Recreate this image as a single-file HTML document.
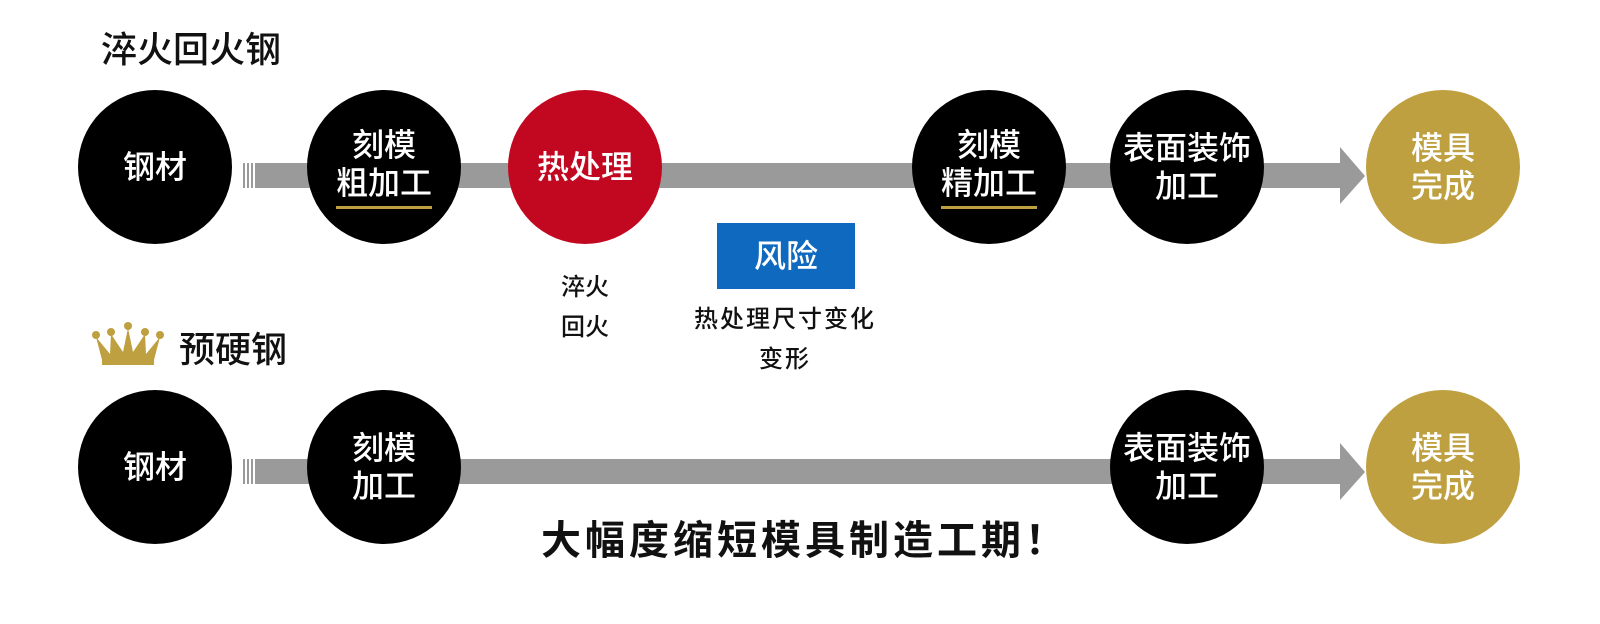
<!DOCTYPE html>
<html><head><meta charset="utf-8"><style>
body{margin:0;width:1600px;height:624px;background:#fff;position:relative;overflow:hidden;font-family:"Liberation Sans","Noto Sans CJK SC",sans-serif}
.a{position:absolute}
.c{position:absolute;width:154px;height:154px;border-radius:50%;background:#000;color:#fff;display:flex;flex-direction:column;align-items:center;justify-content:center;font-size:32px;line-height:38px;text-align:center;font-weight:500}
.bar{position:absolute;height:25px;background:#9a9a9a}
.t{position:absolute;color:#111;white-space:nowrap;font-weight:500}
.ul{border-bottom:3px solid #bfa040;padding-bottom:4px}
</style></head><body>
<div class="t" style="left:101px;top:28px;font-size:36px;line-height:44px">淬火回火钢</div>
<div class="t" style="left:179px;top:328px;font-size:36px;line-height:44px">预硬钢</div>
<svg class="a" style="left:92px;top:322px" width="72" height="44" viewBox="0 0 72 44"><g fill="#bfa040"><circle cx="36" cy="4" r="4"/><circle cx="19" cy="10" r="4"/><circle cx="53" cy="10" r="4"/><circle cx="4" cy="13" r="4"/><circle cx="68" cy="13" r="4"/><path d="M4 15 L18 32 L19 12 L31 30 L36 6 L41 30 L53 12 L54 32 L68 15 L62 38 L10 38 Z"/><rect x="10" y="38" width="52" height="5"/></g></svg>

<svg class="a" style="left:240px;top:163px" width="22" height="25"><g fill="#9a9a9a"><rect x="3" width="2" height="25"/><rect x="7" width="2" height="25"/><rect x="11" width="2" height="25"/><rect x="15" width="7" height="25"/></g></svg>
<div class="bar" style="left:262px;top:163px;width:1084px"></div>
<svg class="a" style="left:1340px;top:147px" width="26" height="58"><polygon points="0,0 25,29 0,57" fill="#9a9a9a"/></svg>
<svg class="a" style="left:240px;top:459px" width="22" height="25"><g fill="#9a9a9a"><rect x="3" width="2" height="25"/><rect x="7" width="2" height="25"/><rect x="11" width="2" height="25"/><rect x="15" width="7" height="25"/></g></svg>
<div class="bar" style="left:262px;top:459px;width:1084px"></div>
<svg class="a" style="left:1340px;top:443px" width="26" height="58"><polygon points="0,0 25,29 0,57" fill="#9a9a9a"/></svg>

<div class="c" style="left:78px;top:90px">钢材</div>
<div class="c" style="left:307px;top:90px"><div>刻模</div><div class="ul">粗加工</div></div>
<div class="c" style="left:508px;top:90px;background:#c20820">热处理</div>
<div class="c" style="left:912px;top:90px"><div>刻模</div><div class="ul">精加工</div></div>
<div class="c" style="left:1110px;top:90px"><div>表面装饰</div><div>加工</div></div>
<div class="c" style="left:1366px;top:90px;background:#bfa040"><div>模具</div><div>完成</div></div>

<div class="c" style="left:78px;top:390px">钢材</div>
<div class="c" style="left:307px;top:390px"><div>刻模</div><div>加工</div></div>
<div class="c" style="left:1110px;top:390px"><div>表面装饰</div><div>加工</div></div>
<div class="c" style="left:1366px;top:390px;background:#bfa040"><div>模具</div><div>完成</div></div>

<div class="a" style="left:717px;top:223px;width:138px;height:66px;background:#0f69be;color:#fff;font-size:32px;line-height:66px;text-align:center;font-weight:500">风险</div>
<div class="t" style="left:535px;top:268px;width:100px;text-align:center;font-size:24px;line-height:40px">淬火<br>回火</div>
<div class="t" style="left:685px;top:300px;width:200px;text-align:center;font-size:24px;line-height:40px;letter-spacing:2px">热处理尺寸变化<br>变形</div>
<div class="t" style="left:541px;top:516px;font-size:40px;line-height:50px;font-weight:bold;letter-spacing:4px">大幅度缩短模具制造工期！</div>
</body></html>
